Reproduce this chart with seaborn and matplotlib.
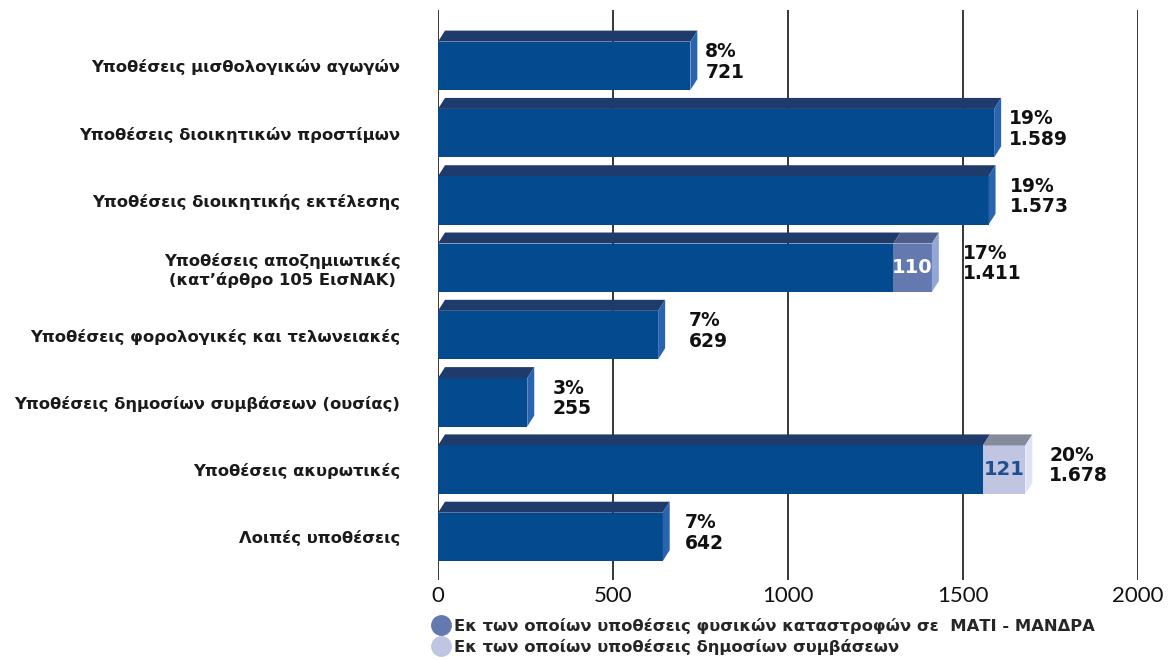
import matplotlib

matplotlib.use("Agg")
import matplotlib.pyplot as plt
from matplotlib.lines import Line2D
from matplotlib.patches import Polygon
import numpy as np
import pandas as pd
import seaborn as sns

# data
categories = [
    "Υποθέσεις μισθολογικών αγωγών",
    "Υποθέσεις διοικητικών προστίμων",
    "Υποθέσεις διοικητικής εκτέλεσης",
    "Υποθέσεις αποζημιωτικές\n(κατ’άρθρο 105 ΕισΝΑΚ)",
    "Υποθέσεις φορολογικές και τελωνειακές",
    "Υποθέσεις δημοσίων συμβάσεων (ουσίας)",
    "Υποθέσεις ακυρωτικές",
    "Λοιπές υποθέσεις",
]
totals = [721, 1589, 1573, 1411, 629, 255, 1678, 642]
percents = ["8%", "19%", "19%", "17%", "7%", "3%", "20%", "7%"]
total_labels = ["721", "1.589", "1.573", "1.411", "629", "255", "1.678", "642"]
mati_mandra = [0, 0, 0, 110, 0, 0, 0, 0]
public_contracts = [0, 0, 0, 0, 0, 0, 121, 0]
legend_labels = [
    "Εκ των οποίων υποθέσεις φυσικών καταστροφών σε  ΜΑΤΙ - ΜΑΝΔΡΑ",
    "Εκ των οποίων υποθέσεις δημοσίων συμβάσεων",
]

# colours: (front, top, side)
MAIN = ("#034a8e", "#1f3b6c", "#2a63ae")
MATI = ("#6479b0", "#4d5d8c", "#93a6d6")
PUBLIC = ("#c0c6e2", "#868b9c", "#e0e3f3")
# gap (px) between bar end and its label
label_gap_px = [8, 8, 14, 24, 24, 18, 17, 15]

sns.set_theme(style="white")
plt.rcParams["font.family"] = ["DejaVu Sans"]

df = pd.DataFrame(
    {
        "cat": categories,
        "total": totals,
        "main": np.array(totals) - np.array(mati_mandra) - np.array(public_contracts),
    }
)
seg_style = []
for m, p in zip(mati_mandra, public_contracts):
    if m:
        seg_style.append(MATI)
    elif p:
        seg_style.append(PUBLIC)
    else:
        seg_style.append(MAIN)

fig = plt.figure(figsize=(11.69, 6.61), dpi=100)
ax = fig.add_axes([438 / 1169, 1 - 580 / 661, 700 / 1169, 570 / 661])

height = 0.72
sns.barplot(
    data=df, y="cat", x="total", hue="cat", orient="h",
    palette=[s[0] for s in seg_style], legend=False, width=height,
    saturation=1, linewidth=0, ax=ax,
)
sns.barplot(
    data=df, y="cat", x="main", orient="h", color=MAIN[0], width=height,
    saturation=1, linewidth=0, ax=ax,
)

ax.set_xlim(0, 2000)
ax.set_ylim(7.64, -0.83)

# depth of the 3D effect in data units
px = 2000 / 700
dx = 7 * px
dy = 11 / 67.3

for i in range(len(categories)):
    y0 = i - height / 2
    y1 = i + height / 2
    main = df["main"][i]
    total = df["total"][i]
    # top face of main part
    ax.add_patch(Polygon([(0, y0), (main, y0), (main + dx, y0 - dy), (dx, y0 - dy)],
                         closed=True, color=MAIN[1], lw=0, zorder=3))
    if total > main:
        st = seg_style[i]
        ax.add_patch(Polygon([(main, y0), (total, y0), (total + dx, y0 - dy), (main + dx, y0 - dy)],
                             closed=True, color=st[1], lw=0, zorder=3))
        side = st[2]
        ax.text((main + total) / 2, i, str(total - main), ha="center", va="center",
                fontsize=14, fontweight="bold",
                color="white" if st is MATI else "#1f4f8f", zorder=5)
    else:
        side = MAIN[2]
    ax.add_patch(Polygon([(total, y0), (total + dx, y0 - dy), (total + dx, y1 - dy), (total, y1)],
                         closed=True, color=side, lw=0, zorder=3))
    ax.text(total + dx + label_gap_px[i] * px, i - 0.06, f"{percents[i]}\n{total_labels[i]}",
            ha="left", va="center", fontsize=13.5, fontweight="bold", color="#111111",
            linespacing=1.1, zorder=5)

ax.set_xticks([0, 500, 1000, 1500, 2000])
ax.grid(axis="x", color="black", lw=1.1)
ax.grid(axis="y", visible=False)
ax.set_axisbelow(True)
for s in ax.spines.values():
    s.set_visible(False)
ax.set_xlabel("")
ax.set_ylabel("")
ax.tick_params(axis="x", length=0, pad=4, labelsize=16, labelcolor="#111111")
for lbl in ax.get_xticklabels():
    lbl.set_fontweight("normal")
    lbl.set_family(["Lato", "DejaVu Sans"])
ax.tick_params(axis="y", length=0, pad=27, labelsize=11.8, labelcolor="#1a1a1a")
for lbl in ax.get_yticklabels():
    lbl.set_fontweight("bold")
    lbl.set_multialignment("center")

handles = [
    Line2D([], [], marker="o", ls="", markersize=14, color=MATI[0]),
    Line2D([], [], marker="o", ls="", markersize=14, color=PUBLIC[0]),
]
leg = fig.legend(handles, legend_labels, loc="upper left",
                 bbox_to_anchor=(415 / 1169, 1 - 603 / 661), frameon=False,
                 handletextpad=0.1, labelspacing=0.3, handlelength=1.4,
                 prop={"weight": "bold", "size": 11.8})

fig.savefig("out.png", dpi=100)
